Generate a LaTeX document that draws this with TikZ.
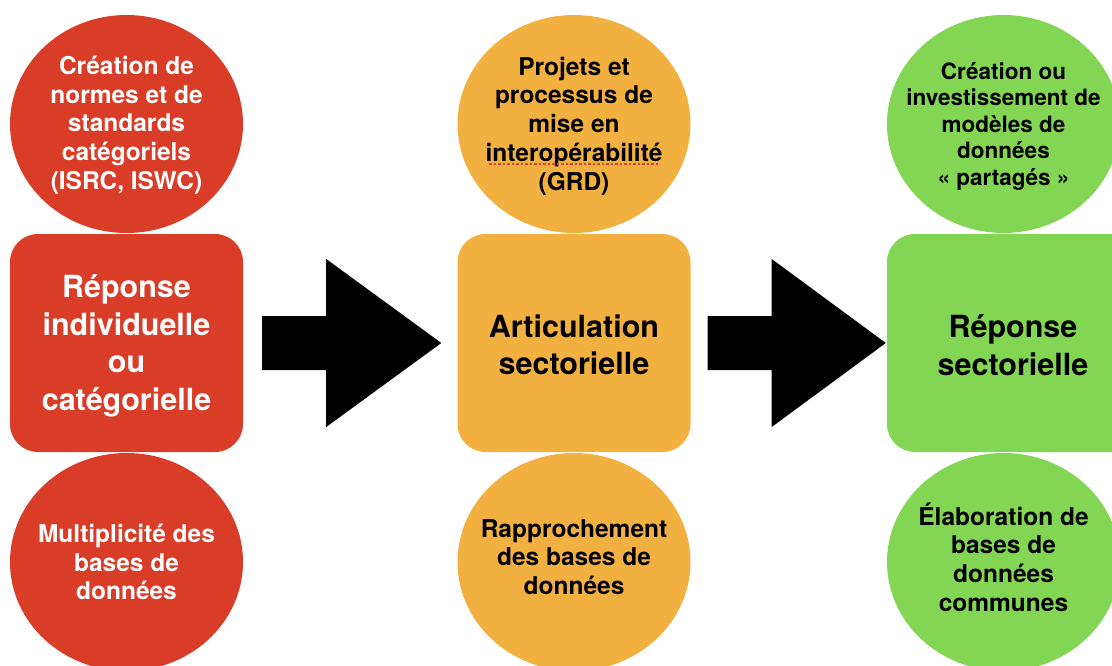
\documentclass[tikz,border=0pt]{standalone}
\usepackage{fontspec}
\setmainfont{TeX Gyre Heros}
\usetikzlibrary{shapes.geometric,calc}
\definecolor{cred}{RGB}{217,60,39}
\definecolor{corange}{RGB}{242,176,64}
\definecolor{cgreen}{RGB}{131,213,84}
\definecolor{spell}{RGB}{226,64,52}
\newcommand\blockarrow[2]{\fill[black] ($(#1)+(0,-27)$) -- ($(#1)+(64,-27)$) -- ($(#1)+(64,-84)$) -- (#2) -- ($(#1)+(64,84)$) -- ($(#1)+(64,27)$) -- ($(#1)+(0,27)$) -- cycle;}
\begin{document}
\begin{tikzpicture}[x=1pt,y=-1pt,
  bubble/.style={ellipse, minimum width=233pt, minimum height=218pt, inner sep=0pt},
  btext/.style={align=center, inner sep=0pt, font=\bfseries\fontsize{24.5}{28.7}\selectfont},
  block/.style={rectangle, rounded corners=28pt, minimum width=233pt, minimum height=218pt, inner sep=0pt},
  rtext/.style={align=center, inner sep=0pt, font=\bfseries\fontsize{30.5}{37.5}\selectfont}]
\useasboundingbox (0,0) rectangle (1112,666);
\clip (0,0) rectangle (1112,666);
% shapes
\node[bubble, fill=cred] (c1t) at (126.5,124) {};
\node[bubble, fill=cred] (c1b) at (126.5,562) {};
\node[block, fill=cred] (r1) at (126.5,343) {};
\node[bubble, fill=corange] (c2t) at (574,124) {};
\node[bubble, fill=corange] (c2b) at (574,562) {};
\node[block, fill=corange] (r2) at (574,343) {};
\node[bubble, fill=cgreen] (c3t) at (1003.5,124) {};
\node[bubble, fill=cgreen] (c3b) at (1003.5,562) {};
\node[block, fill=cgreen, minimum width=252pt] (r3) at (1013,343) {};
% texts
\node[btext, text=white] (t1t) at ($(c1t)+(0,1)$) {Création de\\normes et de\\standards\\catégoriels\\(ISRC, ISWC)};
\node[btext, text=white] (t1b) at ($(c1b)+(0,0)$) {Multiplicité des\\bases de\\données};
\node[rtext, text=white] (t1r) at ($(r1)+(0,3)$) {Réponse\\individuelle\\ou\\catégorielle};
\node[btext] (t2t) at ($(c2t)+(0,2)$) {Projets et\\processus de\\mise en\\interopérabilité\\(GRD)};
\node[btext] (t2b) at ($(c2b)+(0,-5)$) {Rapprochement\\des bases de\\données};
\node[rtext] (t2r) at ($(r2)+(0,2)$) {Articulation\\sectorielle};
\node[btext, font=\bfseries\fontsize{22.5}{26.5}\selectfont] (t3t) at ($(c3t)+(0,2)$) {Création ou\\investissement de\\modèles de\\données\\« partagés »};
\node[btext] (t3b) at ($(c3b)+(0,-5)$) {Élaboration de\\bases de\\données\\communes};
\node[rtext] (t3r) at ($(r3)+(0,2)$) {Réponse\\sectorielle};
% spell-check underline
\draw[spell, line width=1.4pt, dash pattern=on 2.5pt off 2pt] ($(t2t.west |- 0,164)+(4,0)$) -- ($(t2t.east |- 0,164)+(-3,0)$);
% arrows
\coordinate (a1s) at ($(r1.east)+(19,0)$);
\coordinate (a1e) at ($(r2.west)+(-16,0)$);
\coordinate (a2s) at ($(r2.east)+(17,0)$);
\coordinate (a2e) at ($(r3.west)+(-1,0)$);
\blockarrow{a1s}{a1e}
\blockarrow{a2s}{a2e}
\end{tikzpicture}
\end{document}
